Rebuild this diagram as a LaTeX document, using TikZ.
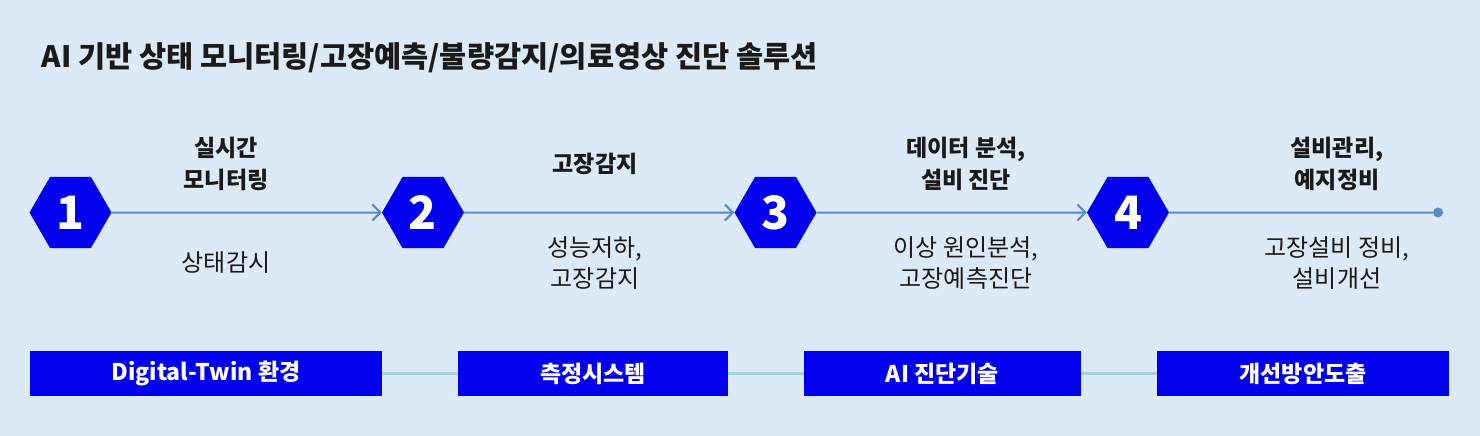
\documentclass[tikz,border=0pt]{standalone}
\usepackage{fontspec}
\setmainfont{Noto Sans CJK KR}
\usepackage{tikz}
\usetikzlibrary{arrows.meta}
\usetikzlibrary{shapes.geometric}

\definecolor{bgblue}{HTML}{DCE9F6}
\definecolor{hexblue}{HTML}{0000EE}
\definecolor{flowline}{HTML}{5B8BC5}
\definecolor{boxline}{HTML}{A6D2DC}
\definecolor{txt}{HTML}{1A1A1A}

\tikzset{
    hex/.style={regular polygon, regular polygon sides=6, minimum size=82pt, inner sep=0pt,
        fill=hexblue, text=white, font=\fontsize{46}{46}\selectfont\bfseries},
    toplabel/.style={align=center, text=txt, font=\fontsize{23}{32}\selectfont\bfseries},
    sublabel/.style={align=center, text=txt, font=\fontsize{24}{31}\selectfont},
    stagebox/.style={fill=hexblue, text=white, minimum height=45pt, inner sep=0pt,
        font=\fontsize{23}{23}\selectfont\bfseries},
    flow/.style={draw=flowline, line width=2pt, -{Straight Barb[length=8pt, width=16pt]}},
    link/.style={draw=boxline, line width=3pt},
}

\begin{document}
\begin{tikzpicture}[x=1pt, y=-1pt]
\begin{scope}
    \fill[bgblue] (0,0) rectangle (1480,436);
    \useasboundingbox (0,0) rectangle (1480,436);

    \node[anchor=west, text=txt, font=\fontsize{29.5}{29.5}\selectfont\bfseries] (title) at (38,58)
        {AI 기반 상태 모니터링/고장예측/불량감지/의료영상 진단 솔루션};

    \node[hex] (h1) at (70.5,212.5) {1};
    \node[hex] (h2) at (423,212.5) {2};
    \node[hex] (h3) at (775.5,212.5) {3};
    \node[hex] (h4) at (1128,212.5) {4};
    \node[circle, fill=flowline, minimum size=10pt, inner sep=0pt] (fin) at (1438,212.5) {};

    \node[toplabel] (t1) at (226,164) {실시간\\모니터링};
    \node[toplabel] (t2) at (595,164) {고장감지};
    \node[toplabel] (t3) at (966,164) {데이터 분석,\\설비 진단};
    \node[toplabel] (t4) at (1337,164) {설비관리,\\예지정비};

    \node[sublabel] (s1) at (226,263) {상태감시};
    \node[sublabel] (s2) at (595,263) {성능저하,\\고장감지};
    \node[sublabel] (s3) at (966,263) {이상 원인분석,\\고장예측진단};
    \node[sublabel] (s4) at (1337,263) {고장설비 정비,\\설비개선};

    \path[flow] (h1) edge (h2);
    \path[flow] (h2) edge (h3);
    \path[flow] (h3) edge (h4);
    \path[draw=flowline, line width=2pt] (h4) edge (fin);

    \node[stagebox, minimum width=352pt] (b1) at (206,373.5) {Digital-Twin 환경};
    \node[stagebox, minimum width=270pt] (b2) at (593,373.5) {측정시스템};
    \node[stagebox, minimum width=277pt] (b3) at (942.5,373.5) {AI 진단기술};
    \node[stagebox, minimum width=292pt] (b4) at (1303,373.5) {개선방안도출};

    \path[link] (b1) edge (b2);
    \path[link] (b2) edge (b3);
    \path[link] (b3) edge (b4);
\end{scope}
\end{tikzpicture}
\end{document}
